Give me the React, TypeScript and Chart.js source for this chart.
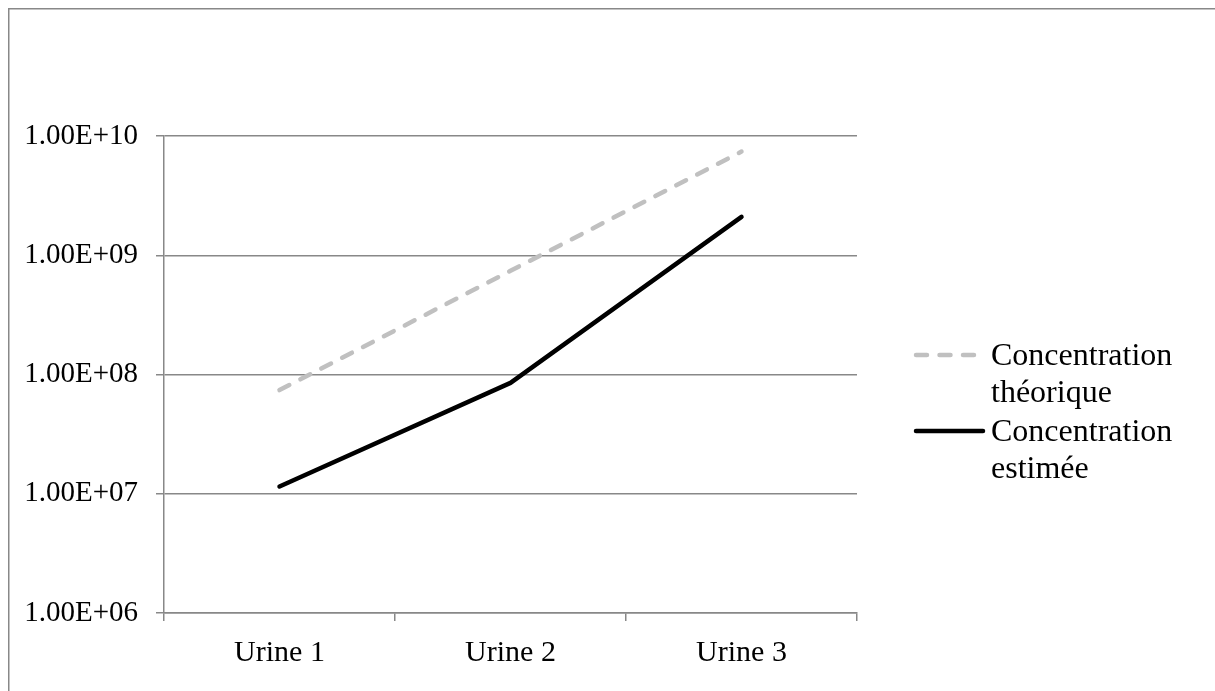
import React, { useEffect, useRef } from "react";
import { Chart, registerables } from "chart.js";

Chart.register(...registerables);

const categories = ["Urine 1", "Urine 2", "Urine 3"];
const theoreticalValues = [7.4e7, 7.4e8, 7.4e9];
const estimatedValues = [1.15e7, 8.5e7, 2.1e9];
const yTickValues = [1e6, 1e7, 1e8, 1e9, 1e10];
const yTickLabels = ["1.00E+06", "1.00E+07", "1.00E+08", "1.00E+09", "1.00E+10"];
const legendTheoretical = ["Concentration", "théorique"];
const legendEstimated = ["Concentration", "estimée"];

const FONT = "'Liberation Serif', 'Times New Roman', serif";
const GRID = "#888888";
const GRAY = "#c0c0c0";

const framePlugin = {
  id: "frame",
  beforeDraw(chart: any) {
    const ctx = chart.ctx;
    ctx.save();
    ctx.strokeStyle = GRID;
    ctx.lineWidth = 1.5;
    ctx.beginPath();
    ctx.moveTo(8.75, chart.height);
    ctx.lineTo(8.75, 8.75);
    ctx.lineTo(chart.width, 8.75);
    ctx.stroke();
    ctx.restore();
  },
};

const legendPlugin = {
  id: "customLegend",
  afterDraw(chart: any) {
    const ctx = chart.ctx;
    const items = [
      { lines: legendTheoretical, ds: chart.data.datasets[0], y: 365, x0: 916, x1: 976 },
      { lines: legendEstimated, ds: chart.data.datasets[1], y: 441, x0: 916, x1: 983 },
    ];
    ctx.save();
    items.forEach((it) => {
      ctx.strokeStyle = it.ds.borderColor;
      ctx.lineWidth = it.ds.borderWidth;
      ctx.lineCap = "round";
      ctx.setLineDash(it.ds.borderDash || []);
      ctx.beginPath();
      ctx.moveTo(it.x0, it.y - 10);
      ctx.lineTo(it.x1, it.y - 10);
      ctx.stroke();
      ctx.setLineDash([]);
      ctx.fillStyle = "#000";
      ctx.font = `32px ${FONT}`;
      ctx.textAlign = "left";
      ctx.textBaseline = "alphabetic";
      it.lines.forEach((t: string, i: number) => {
        ctx.fillText(t, 991, it.y + i * 37);
      });
    });
    ctx.restore();
  },
};

export default function App() {
  const ref = useRef<HTMLCanvasElement | null>(null);
  useEffect(() => {
    if (!ref.current) return;
    const chart = new Chart(ref.current, {
      type: "line",
      data: {
        labels: categories,
        datasets: [
          {
            label: legendTheoretical.join(" "),
            data: theoreticalValues,
            borderColor: GRAY,
            backgroundColor: GRAY,
            borderWidth: 4.5,
            borderDash: [11, 12.5],
            borderCapStyle: "round",
            pointRadius: 0,
            tension: 0,
            fill: false,
          },
          {
            label: legendEstimated.join(" "),
            data: estimatedValues,
            borderColor: "#000000",
            backgroundColor: "#000000",
            borderWidth: 4.5,
            borderCapStyle: "round",
            borderJoinStyle: "round",
            pointRadius: 0,
            tension: 0,
            fill: false,
          },
        ],
      },
      options: {
        animation: false,
        responsive: false,
        layout: { padding: { left: 0, top: 136, right: 358, bottom: 0 } },
        plugins: { legend: { display: false }, tooltip: { enabled: false } },
        scales: {
          x: {
            type: "category",
            offset: true,
            grid: {
              display: true,
              offset: true,
              drawOnChartArea: false,
              drawTicks: true,
              tickLength: 8,
              color: GRID,
              lineWidth: 1.5,
            },
            border: { display: true, color: GRID, width: 1.5 },
            ticks: { color: "#000", font: { family: FONT, size: 30 }, padding: 14 },
            afterFit(scale: any) {
              scale.height = 78;
            },
          },
          y: {
            type: "logarithmic",
            min: 1e6,
            max: 1e10,
            grid: { color: GRID, lineWidth: 1.5, tickLength: 8, drawTicks: true },
            border: { display: true, color: GRID, width: 1.5 },
            afterBuildTicks(scale: any) {
              scale.ticks = yTickValues.map((v) => ({ value: v }));
            },
            ticks: {
              color: "#000",
              font: { family: FONT, size: 29 },
              padding: 18,
              autoSkip: false,
              callback(value: any) {
                const i = yTickValues.indexOf(Number(value));
                return i >= 0 ? yTickLabels[i] : "";
              },
            },
            afterFit(scale: any) {
              scale.width = 164;
            },
          },
        },
      },
      plugins: [framePlugin, legendPlugin],
    });
    return () => chart.destroy();
  }, []);
  return (
    <div style={{ position: "fixed", left: 0, top: 0, width: 1215, height: 691, background: "#fff" }}>
      <canvas ref={ref} width={1215} height={691} style={{ width: 1215, height: 691, display: "block" }} />
    </div>
  );
}
